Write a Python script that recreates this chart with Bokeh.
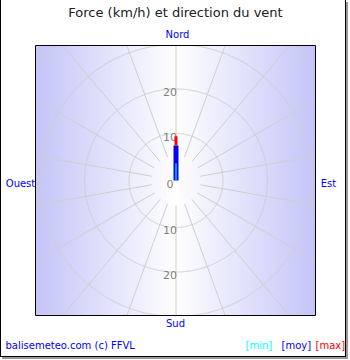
import numpy as np
from bokeh.plotting import figure
from bokeh.embed import file_html
from bokeh.resources import INLINE
from bokeh.core.properties import value

# ---------------- data ----------------
title_text = "Force (km/h) et direction du vent"
credit_text = "balisemeteo.com (c) FFVL"
direction_deg = [0]          # wind direction (from north, clockwise)
speed_min = [3.3]            # km/h
speed_moy = [7.3]
speed_max = [9.4]
ring_values = [10, 20, 30, 40]
tick_up = [0, 10, 20]
tick_down = [10, 20]
compass = ["Nord", "Est", "Sud", "Ouest"]
legend_labels = ["[min]", "[moy]", "[max]"]
legend_colors = ["#00ffff", "#0000ff", "#ff0000"]
spoke_angles = list(range(0, 360, 20))

# ---------------- layout constants ----------------
K = 4.45          # pixels per km/h
R0 = 0.56         # inner offset of radial scale (km/h)
CX, CY = 175.5, 180.0
FL, FR, FT, FB = 35, 315, 45, 315
FONT = "DejaVu Sans"


def lx(px):
    return (px - CX) / K


def ly(py):
    return (CY - py) / K


bl, br, bb, bt = lx(FL), lx(FR), ly(FB), ly(FT)

p = figure(width=346, height=357, title=None,
           x_range=(lx(1), lx(347)), y_range=(ly(357), ly(0)),
           x_axis_type=None, y_axis_type=None,
           toolbar_location=None, output_backend="svg",
           min_border=0)
p.grid.visible = False
p.outline_line_color = None
p.background_fill_color = "white"
p.border_fill_color = "white"
p.styles = {"border-left": "1px solid black", "border-right": "1px solid black",
            "border-bottom": "1px solid black", "box-shadow": "2px 2px 0 #999999"}

# background horizontal gradient inside the polar box
N = 280
t = np.abs(np.linspace(-1, 1, N))
img = np.empty((1, N), dtype=np.uint32)
v = img.view(dtype=np.uint8).reshape((1, N, 4))
v[0, :, 0] = (255 - 58 * t).astype(np.uint8)
v[0, :, 1] = (255 - 58 * t).astype(np.uint8)
v[0, :, 2] = (255 - 6 * t).astype(np.uint8)
v[0, :, 3] = 255
p.image_rgba(image=[img], x=bl, y=bb, dw=br - bl, dh=bt - bb)


def inside(x, y):
    return (x >= bl) & (x <= br) & (y >= bb) & (y <= bt)


# rings, clipped to the box
th = np.radians(np.arange(0, 360.25, 0.25))
ring_xs, ring_ys = [], []
for rv in ring_values:
    r = rv + R0
    xs, ys = r * np.sin(th), r * np.cos(th)
    ok = inside(xs, ys)
    cur_x, cur_y = [], []
    for xi, yi, oi in zip(xs, ys, ok):
        if oi:
            cur_x.append(xi)
            cur_y.append(yi)
        elif cur_x:
            ring_xs.append(cur_x)
            ring_ys.append(cur_y)
            cur_x, cur_y = [], []
    if cur_x:
        ring_xs.append(cur_x)
        ring_ys.append(cur_y)
p.multi_line(xs=ring_xs, ys=ring_ys, line_color="#cfcfcf", line_width=1)

# spokes, clipped to the box
a = np.radians(spoke_angles)
s, c = np.sin(a), np.cos(a)
with np.errstate(divide="ignore"):
    tx = np.where(s > 1e-9, br / s, np.where(s < -1e-9, bl / s, np.inf))
    ty = np.where(c > 1e-9, bt / c, np.where(c < -1e-9, bb / c, np.inf))
rout = np.minimum(tx, ty)
rin = 5 + R0
p.segment(x0=rin * s, y0=rin * c, x1=rout * s, y1=rout * c,
          line_color="#cfcfcf", line_width=1)

# radial tick labels
ty_ = [0 if t_ == 0 else t_ + R0 for t_ in tick_up] + [-(t_ + R0) for t_ in tick_down]
tt = [str(t_) for t_ in tick_up] + [str(t_) for t_ in tick_down]
p.text(x=[lx(169.5)] * len(ty_), y=ty_, text=tt, text_align="center",
       text_baseline="middle", y_offset=3, text_color="#808080",
       text_font=value(FONT), text_font_size="11px")

# wind bars
d = np.radians(direction_deg)
sd, cd = np.sin(d), np.cos(d)
moy = np.array(speed_moy) + R0
mx = np.array(speed_max) + R0
mn = np.array(speed_min) + R0
p.segment(x0=0 * sd, y0=0 * cd, x1=moy * sd, y1=moy * cd,
          line_color="#0000ff", line_width=5, line_cap="butt")
p.segment(x0=moy * sd, y0=moy * cd, x1=mx * sd, y1=mx * cd,
          line_color="#ff0000", line_width=3, line_cap="butt")
p.segment(x0=0 * sd, y0=0 * cd, x1=mn * sd, y1=mn * cd,
          line_color="#00ffff", line_width=1.2, line_cap="butt")

# polar box outline
p.quad(left=[bl], right=[br], bottom=[bb], top=[bt],
       fill_color=None, line_color="black", line_width=1)


def lab(texts, pxs, pys, colors, size, align="center"):
    p.text(x=[lx(q) for q in pxs], y=[ly(q) for q in pys], text=texts,
           text_align=align, text_baseline="middle", text_color=colors,
           text_font=value(FONT), text_font_size=size)


lab([title_text], [175], [12], ["#202020"], "13px")
lab(compass, [177, 328, 175, 20], [34, 183, 323, 183], ["#0000ff"] * 4, "10px")
lab([credit_text] + legend_labels, [5, 245, 281, 315], [345] * 4,
    ["#0000ff"] + legend_colors, "10px", "left")

open("out.html", "w").write(file_html(p, INLINE))
